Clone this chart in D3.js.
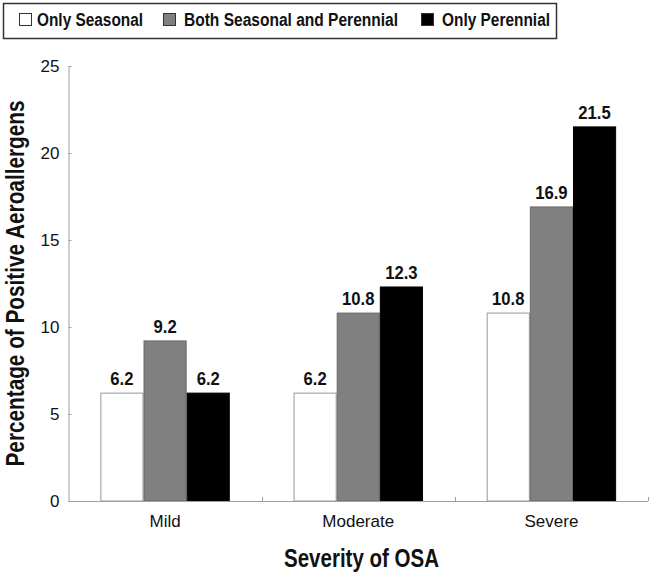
<!DOCTYPE html>
<html>
<head>
<meta charset="utf-8">
<script src="https://cdn.jsdelivr.net/npm/d3@7"></script>
<style>
  html, body { margin: 0; padding: 0; background: #fff; }
  svg { display: block; }
  text { font-family: "Liberation Sans", Arial, Helvetica, sans-serif; }
</style>
</head>
<body>
<svg id="chart" width="654" height="575"></svg>
<script>
const categories = ["Mild", "Moderate", "Severe"];
const seriesNames = ["Only Seasonal", "Both Seasonal and Perennial", "Only Perennial"];
const onlySeasonal = [6.2, 6.2, 10.8];
const bothSeasonalPerennial = [9.2, 10.8, 16.9];
const onlyPerennial = [6.2, 12.3, 21.5];
const yTicks = [0, 5, 10, 15, 20, 25];
const seriesValues = [onlySeasonal, bothSeasonalPerennial, onlyPerennial];
const fills = ["#ffffff", "#808080", "#000000"];
const strokes = ["#9a9a9a", "#6a6a6a", "#000000"];
const FONT = '"Liberation Sans", Arial, Helvetica, sans-serif';

const svg = d3.select("#chart");
const mLeft = 68.5, mRight = 648, mTop = 66, mBottom = 501;

// condense a text element horizontally (narrow typeface look)
function condense(sel, factor) {
  sel.each(function () {
    const w = this.getComputedTextLength();
    d3.select(this).attr("textLength", w * factor).attr("lengthAdjust", "spacingAndGlyphs");
  });
}
function fitWidth(sel, width) {
  sel.attr("textLength", width).attr("lengthAdjust", "spacingAndGlyphs");
}

const x = d3.scaleBand().domain(categories).range([mLeft, mRight]).paddingInner(0.33).paddingOuter(0.165);
const xs = d3.scaleBand().domain(d3.range(seriesNames.length)).range([0, x.bandwidth()]);
const y = d3.scaleLinear().domain([0, 25]).range([mBottom, mTop]);

// bars
categories.forEach((c, ci) => {
  const g = svg.append("g");
  seriesValues.forEach((vals, si) => {
    g.append("rect")
      .attr("x", x(c) + xs(si) + 0.5)
      .attr("y", y(vals[ci]))
      .attr("width", xs.bandwidth() - 1)
      .attr("height", y(0) - y(vals[ci]))
      .attr("fill", fills[si])
      .attr("stroke", strokes[si])
      .attr("stroke-width", 1);
    const t = g.append("text")
      .attr("x", x(c) + xs(si) + xs.bandwidth() / 2)
      .attr("y", y(vals[ci]) - 8)
      .attr("text-anchor", "middle")
      .attr("font-weight", "bold")
      .attr("font-size", 18.5)
      .attr("fill", "#111")
      .text(vals[ci].toFixed(1));
    condense(t, 0.9);
  });
});

// y axis
const yAxis = d3.axisLeft(y).tickValues(yTicks).tickSize(-3).tickSizeOuter(0).tickPadding(9);
const ya = svg.append("g").attr("transform", `translate(${mLeft},0)`).call(yAxis);
ya.select(".domain").attr("stroke", "#a0a0a0");
ya.selectAll(".tick line").attr("stroke", "#a0a0a0");
ya.selectAll(".tick text").attr("font-size", 17).attr("fill", "#111").style("font-family", FONT);

// x axis
const xAxis = d3.axisBottom(x).tickSize(0).tickPadding(14);
const xa = svg.append("g").attr("transform", `translate(0,${mBottom})`).call(xAxis);
xa.select(".domain").attr("stroke", "#a0a0a0").attr("d", `M${mLeft},0.5H${mRight}`);
xa.selectAll(".tick text").attr("font-size", 17).attr("fill", "#111").style("font-family", FONT);
const boundaries = categories.map(c => x(c) - x.step() * x.paddingInner() / 2).slice(1).concat([mRight]);
xa.selectAll(".bound").data(boundaries).join("line")
  .attr("x1", d => Math.round(d) + 0.5).attr("x2", d => Math.round(d) + 0.5)
  .attr("y1", 0).attr("y2", -4).attr("stroke", "#a0a0a0");

// axis titles
const xt = svg.append("text")
  .attr("x", 361.5).attr("y", 567)
  .attr("text-anchor", "middle").attr("font-weight", "bold").attr("font-size", 25).attr("fill", "#111")
  .text("Severity of OSA");
fitWidth(xt, 155);
const yt = svg.append("text")
  .attr("transform", `translate(24,283.5) rotate(-90)`)
  .attr("text-anchor", "middle").attr("font-weight", "bold").attr("font-size", 25).attr("fill", "#111")
  .text("Percentage of Positive Aeroallergens");
fitWidth(yt, 366);

// legend
svg.append("rect").attr("x", 3.5).attr("y", 3.5).attr("width", 553).attr("height", 35)
  .attr("fill", "#fff").attr("stroke", "#333").attr("stroke-width", 1.5);
const legendX = [19, 163, 421];
const legendTextX = [37, 184, 442];
const legendTextW = [106, 214, 108];
seriesNames.forEach((s, i) => {
  svg.append("rect").attr("x", legendX[i] + 0.5).attr("y", 13.5).attr("width", 12).attr("height", 12)
    .attr("fill", fills[i]).attr("stroke", "#333");
  const t = svg.append("text").attr("x", legendTextX[i]).attr("y", 26)
    .attr("font-weight", "bold").attr("font-size", 17.5).attr("fill", "#111").text(s);
  fitWidth(t, legendTextW[i]);
});
</script>
</body>
</html>
